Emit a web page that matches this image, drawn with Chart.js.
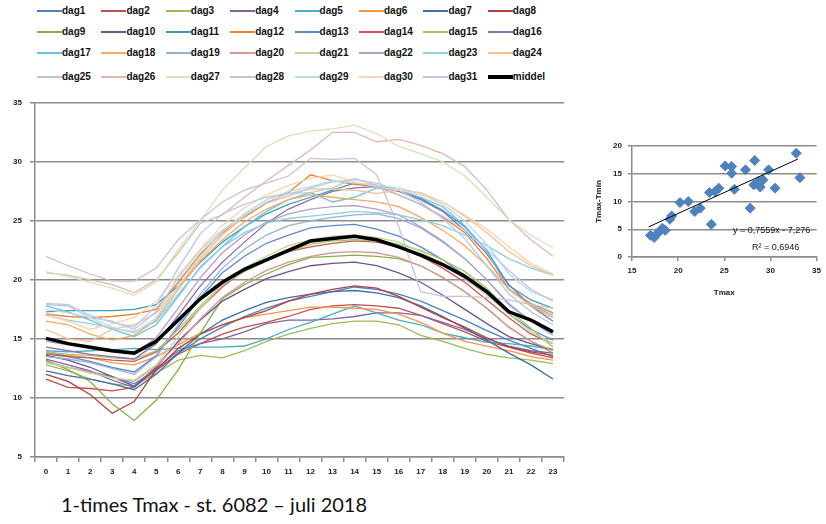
<!DOCTYPE html>
<html>
<head>
<meta charset="utf-8">
<script src="https://cdn.jsdelivr.net/npm/chart.js@4"></script>
<style>
  body { margin: 0; background: #fff; width: 826px; height: 524px; position: relative; overflow: hidden; font-family: 'Liberation Sans', Arial, sans-serif; }
  canvas { position: absolute; }
  #legend .item { position: absolute; height: 12px; font-size: 10px; font-weight: bold; color: #111; line-height: 12px; white-space: nowrap; }
  #legend .swatch { display: inline-block; width: 25px; vertical-align: middle; }
  #title { position: absolute; left: 61px; top: 492px; font-family: Lato, 'Open Sans', sans-serif; font-size: 20px; color: #111; white-space: nowrap; }
  .trend { position: absolute; font-size: 9px; color: #111; white-space: nowrap; }
</style>
</head>
<body>
<div id="legend"></div>
<canvas id="hourChart" width="580" height="400" style="left:0;top:90px;"></canvas>
<canvas id="scatterChart" width="246" height="180" style="left:580px;top:130px;"></canvas>
<div class="trend" style="left:733px;top:225px;">y = 0,7559x - 7,276</div>
<div class="trend" style="left:752px;top:242px;">R² = 0,6946</div>
<div id="title">1-times Tmax - st. 6082 – juli 2018</div>
<script>
// hours of the day
const hours = ['0','1','2','3','4','5','6','7','8','9','10','11','12','13','14','15','16','17','18','19','20','21','22','23'];

// hourly temperature per day
const dag1  = [13.0,12.6,12.2,11.8,11.2,12.3,13.8,15.0,16.0,16.9,17.6,18.2,18.6,19.0,19.4,19.2,18.8,18.2,17.4,16.6,15.7,14.9,14.2,13.5];
const dag2  = [11.6,10.9,10.8,10.6,10.9,12.4,13.7,14.6,15.4,16.0,16.4,16.9,17.5,17.8,17.9,17.8,17.6,17.0,16.3,15.6,14.8,14.3,13.8,13.4];
const dag3  = [12.8,12.3,11.6,11.2,11.0,12.1,13.2,13.6,13.4,14.0,14.8,15.4,15.9,16.3,16.5,16.5,16.2,15.3,14.8,14.2,13.7,13.4,13.2,12.9];
const dag4  = [13.3,12.8,12.3,11.5,10.9,12.5,14.0,14.6,15.0,15.6,16.3,16.6,16.6,16.7,16.9,17.2,17.2,17.0,16.4,15.8,15.0,14.4,14.0,13.8];
const dag5  = [14.0,13.9,14.0,14.1,14.2,14.1,14.2,14.3,14.3,14.4,15.0,15.8,16.4,17.1,17.8,17.2,16.6,16.2,15.5,15.1,14.7,14.6,14.4,14.1];
const dag6  = [13.8,13.6,13.4,13.0,12.8,13.5,14.5,15.5,16.2,16.8,17.1,17.4,17.7,17.7,17.6,17.5,17.1,16.4,15.5,14.8,14.4,14.0,13.5,13.2];
const dag7  = [12.3,11.9,11.6,11.2,10.7,12.0,13.8,15.4,16.6,17.4,18.1,18.5,18.8,19.0,19.1,18.9,18.5,17.8,16.9,15.9,14.9,13.8,12.8,11.6];
const dag8  = [12.0,11.4,10.3,8.7,9.7,12.4,14.2,15.4,16.2,16.8,17.4,18.2,18.8,19.2,19.5,19.3,18.6,17.7,16.8,16.0,15.1,14.3,13.9,13.6];
const dag9  = [13.2,12.4,11.4,9.5,8.1,9.8,12.4,15.5,18.4,19.6,20.5,21.3,21.9,22.0,22.1,22.0,21.8,21.2,20.2,19.0,17.6,16.0,14.8,13.8];
const dag10 = [13.6,13.2,12.6,11.8,11.0,12.6,14.8,16.6,18.2,19.2,20.1,20.7,21.2,21.4,21.5,21.2,20.6,19.8,18.7,17.5,16.3,15.2,14.6,14.1];
const dag11 = [17.3,17.4,17.4,17.4,17.5,17.9,19.5,21.5,23.2,24.5,25.6,26.4,27.0,27.6,28.2,28.0,27.6,26.9,25.9,24.5,22.5,19.5,18.3,17.6];
const dag12 = [17.1,16.9,16.8,16.9,17.1,17.5,19.8,22.2,24.0,25.3,26.5,27.4,28.9,28.4,28.1,27.9,27.2,26.4,25.3,24.0,21.8,19.2,18.0,17.2];
const dag13 = [13.9,13.5,13.1,12.6,12.2,13.6,16.0,18.5,20.6,22.0,23.1,23.8,24.4,24.6,24.7,24.3,23.7,22.8,21.7,20.4,18.9,17.1,15.8,14.9];
const dag14 = [13.7,13.5,13.4,13.2,13.1,13.9,15.5,17.6,19.4,20.8,21.7,22.4,22.8,23.1,23.3,23.2,22.8,22.0,21.0,19.8,18.3,16.8,15.4,14.6];
const dag15 = [13.9,13.7,13.6,13.4,13.3,14.0,15.8,17.8,19.6,20.7,21.6,22.4,23.0,23.3,23.4,23.3,23.0,22.5,21.7,20.7,19.3,17.4,15.9,14.3];
const dag16 = [14.3,14.0,13.7,13.5,13.3,14.6,17.0,19.5,21.5,23.2,24.8,26.0,26.8,27.5,27.8,27.9,27.5,26.8,25.8,24.2,22.2,19.6,17.8,16.5];
const dag17 = [17.8,17.3,16.6,15.8,15.2,16.2,18.6,21.1,22.8,24.5,25.8,26.8,27.4,26.6,27.0,27.8,27.6,27.0,26.2,24.6,22.4,19.2,17.9,17.0];
const dag18 = [16.5,16.2,15.4,14.9,15.3,16.6,19.2,21.6,23.4,24.9,26.0,26.8,27.2,27.0,26.8,26.6,26.2,25.3,24.2,22.9,21.2,19.2,17.8,16.8];
const dag19 = [13.5,13.3,13.0,12.5,12.0,13.5,16.2,18.8,21.0,22.6,23.8,24.6,25.0,25.3,25.5,25.6,25.2,24.4,23.2,21.8,20.0,18.0,16.5,15.3];
const dag20 = [13.1,12.6,12.2,11.7,11.4,12.7,14.6,16.7,18.5,19.8,20.8,21.5,22.0,22.3,22.4,22.3,21.9,21.2,20.2,19.0,17.6,16.0,14.8,14.0];
const dag21 = [13.0,12.6,12.1,11.7,11.5,12.8,15.2,17.6,19.6,21.0,22.0,22.9,23.4,23.7,23.8,23.6,23.2,22.4,21.3,20.1,18.7,17.1,15.6,14.6];
const dag22 = [14.8,14.5,14.2,13.9,13.8,15.1,17.6,20.2,22.3,23.8,24.9,25.6,26.0,26.2,26.3,26.0,25.5,24.5,23.3,21.8,20.0,17.9,16.5,15.5];
const dag23 = [17.0,16.6,16.3,15.9,15.6,16.5,18.8,21.0,22.8,24.0,24.8,25.2,25.4,25.6,25.8,25.7,25.5,25.1,24.6,23.8,22.9,21.8,21.0,20.4];
const dag24 = [15.8,15.0,14.8,15.8,16.2,17.2,19.4,21.8,23.8,25.4,26.6,27.3,27.7,27.7,27.6,27.3,27.6,27.4,26.6,25.4,24.0,22.4,21.2,20.4];
const dag25 = [17.9,17.8,16.8,16.5,15.8,17.3,20.2,22.5,24.2,25.5,26.5,27.1,27.8,28.3,28.5,28.2,27.6,26.6,25.2,23.5,21.2,18.8,17.3,16.2];
const dag26 = [20.6,20.4,20.0,19.6,18.9,20.0,22.3,24.8,25.5,27.0,28.4,29.7,31.0,32.5,32.5,31.7,31.9,31.4,30.7,29.6,27.6,25.1,23.4,22.0];
const dag27 = [20.7,20.3,19.8,19.3,18.7,19.8,22.6,25.0,27.6,29.5,31.3,32.2,32.6,32.8,33.1,32.4,31.3,30.7,30.0,28.8,27.0,25.1,23.8,22.7];
const dag28 = [22.0,21.2,20.5,19.9,19.9,21.0,23.4,25.1,26.6,27.6,28.2,28.8,30.3,30.2,30.3,28.9,24.5,19.0,18.6,18.6,18.5,18.3,17.9,17.6];
const dag29 = [17.5,17.2,16.8,16.0,15.5,16.8,19.5,22.0,24.1,25.6,26.8,27.5,27.9,28.4,28.2,28.0,27.8,27.3,26.4,25.0,23.0,20.5,19.0,18.3];
const dag30 = [17.0,16.5,15.8,16.3,16.8,18.2,20.4,22.6,24.6,26.1,27.2,28.0,28.6,28.9,28.3,27.9,27.6,27.2,26.6,25.5,24.3,22.8,21.4,20.5];
const dag31 = [18.0,17.9,17.0,16.4,16.0,17.8,21.0,23.9,25.6,26.4,27.0,27.3,27.4,27.8,28.6,28.0,27.2,26.4,25.4,24.2,22.6,20.8,19.2,18.2];
const middel = [15.05,14.6,14.3,14.0,13.8,14.8,16.6,18.4,19.8,20.9,21.7,22.5,23.3,23.5,23.7,23.4,22.8,22.1,21.3,20.3,19.0,17.3,16.6,15.6];

const days = [dag1, dag2, dag3, dag4, dag5, dag6, dag7, dag8, dag9, dag10, dag11, dag12, dag13, dag14, dag15, dag16,
              dag17, dag18, dag19, dag20, dag21, dag22, dag23, dag24, dag25, dag26, dag27, dag28, dag29, dag30, dag31];

// scatter: Tmax and Tmax-Tmin per day
const tmaxPoints  = [17.0,17.4,17.7,18.0,18.3,18.6,19.1,19.3,20.2,21.1,21.8,22.4,23.4,23.6,24.0,24.4,25.1,25.8,25.8,26.1,27.3,27.8,28.2,28.3,28.7,28.9,29.2,29.8,30.5,32.8,33.2];
const rangePoints = [3.9,3.5,4.2,4.6,5.2,4.8,6.8,7.4,9.8,10.0,8.2,8.8,11.6,5.9,11.8,12.4,16.4,16.3,15.1,12.2,15.7,8.8,13.0,17.4,13.6,12.6,13.9,15.7,12.4,18.7,14.3];
const trendSlope = 0.7559;
const trendIntercept = -7.276;

const dayColors = [
    '#4F81BD', '#C0504D', '#9BBB59', '#8064A2', '#4BACC6', '#F79646',
    '#3E6DAA', '#B0413E', '#8AAD48', '#6E5393', '#3A9CB6', '#EA8232',
    '#5A8BCB', '#CC5855', '#A6C566', '#8C70AF', '#6CC2DA', '#F9A865',
    '#93B1D8', '#D99694', '#C2D69B', '#B1A0C7', '#92CDDD', '#FAC090',
    '#B5C8E4', '#E4B6B5', '#D4E3BA', '#CBC0DA', '#B5DDE8', '#FBD3B3', '#BCC8E6'
];

const gridColor = '#8c8c8c';
const tickFont = { family: "'Liberation Sans', Arial, sans-serif", size: 8, weight: 'bold' };

const datasets = days.map(function (values, i) {
    return {
        label: 'dag' + (i + 1),
        data: values,
        borderColor: dayColors[i],
        backgroundColor: dayColors[i],
        borderWidth: 1.3,
        order: 40 - i
    };
});
datasets.push({
    label: 'middel',
    data: middel,
    borderColor: '#000000',
    backgroundColor: '#000000',
    borderWidth: 3.5,
    order: 0
});

// legend in a grid, 8 columns
const legendEl = document.getElementById('legend');
const rowTops = [5, 26, 47, 71];
datasets.forEach(function (ds, i) {
    const col = i % 8;
    const row = Math.floor(i / 8);
    const item = document.createElement('div');
    item.className = 'item';
    item.style.left = (37 + col * 64.4) + 'px';
    item.style.top = rowTops[row] + 'px';
    const sw = document.createElement('span');
    sw.className = 'swatch';
    sw.style.borderTop = (ds.label === 'middel' ? 4 : 2) + 'px solid ' + ds.borderColor;
    item.appendChild(sw);
    item.appendChild(document.createTextNode(ds.label));
    legendEl.appendChild(item);
});

new Chart(document.getElementById('hourChart'), {
    type: 'line',
    data: { labels: hours, datasets: datasets },
    options: {
        responsive: false,
        animation: false,
        layout: { padding: { top: 9, right: 16, left: 0, bottom: 0 } },
        plugins: { legend: { display: false }, tooltip: { enabled: false } },
        elements: { point: { radius: 0 }, line: { tension: 0 } },
        scales: {
            x: {
                offset: true,
                grid: { offset: true, drawOnChartArea: false, tickLength: 5, color: gridColor, lineWidth: 1.5 },
                border: { color: gridColor, width: 1.5 },
                ticks: { font: tickFont, color: '#222', padding: 5, maxRotation: 0, autoSkip: false },
                afterFit: function (scale) { scale.height = 33; }
            },
            y: {
                min: 5,
                max: 35,
                ticks: { stepSize: 5, font: tickFont, color: '#222', padding: 8 },
                grid: { color: gridColor, lineWidth: 1.5, tickLength: 5 },
                border: { color: gridColor, width: 1.5 },
                afterFit: function (scale) { scale.width = 35; }
            }
        }
    }
});

const trendFrom = 16.8;
const trendTo = 33.0;

new Chart(document.getElementById('scatterChart'), {
    type: 'scatter',
    data: {
        datasets: [{
            type: 'line',
            data: [
                { x: trendFrom, y: trendSlope * trendFrom + trendIntercept },
                { x: trendTo, y: trendSlope * trendTo + trendIntercept }
            ],
            borderColor: '#000',
            borderWidth: 1,
            pointRadius: 0,
            order: 0
        }, {
            data: tmaxPoints.map(function (t, i) { return { x: t, y: rangePoints[i] }; }),
            pointStyle: 'rectRot',
            pointRadius: 5,
            backgroundColor: '#4F81BD',
            borderColor: '#4F81BD',
            borderWidth: 1,
            order: 1
        }]
    },
    options: {
        responsive: false,
        animation: false,
        layout: { padding: { top: 16, right: 8, left: 0, bottom: 0 } },
        plugins: { legend: { display: false }, tooltip: { enabled: false } },
        scales: {
            x: {
                type: 'linear',
                min: 15,
                max: 35,
                ticks: { stepSize: 5, font: tickFont, color: '#222', padding: 5 },
                grid: { drawOnChartArea: false, tickLength: 4, color: gridColor, lineWidth: 1.5 },
                border: { color: gridColor, width: 1.5 },
                title: { display: true, text: 'Tmax', font: tickFont, color: '#222', padding: { top: 0, bottom: 12 } },
                afterFit: function (scale) { scale.height = 53; }
            },
            y: {
                min: 0,
                max: 20,
                ticks: { stepSize: 5, font: tickFont, color: '#222', padding: 6 },
                grid: { color: gridColor, lineWidth: 1.5, tickLength: 4 },
                border: { color: gridColor, width: 1.5 },
                title: { display: true, text: 'Tmax-Tmin', font: tickFont, color: '#222', padding: { top: 14, bottom: 0 } },
                afterFit: function (scale) { scale.width = 52; }
            }
        }
    }
});
</script>
</body>
</html>
